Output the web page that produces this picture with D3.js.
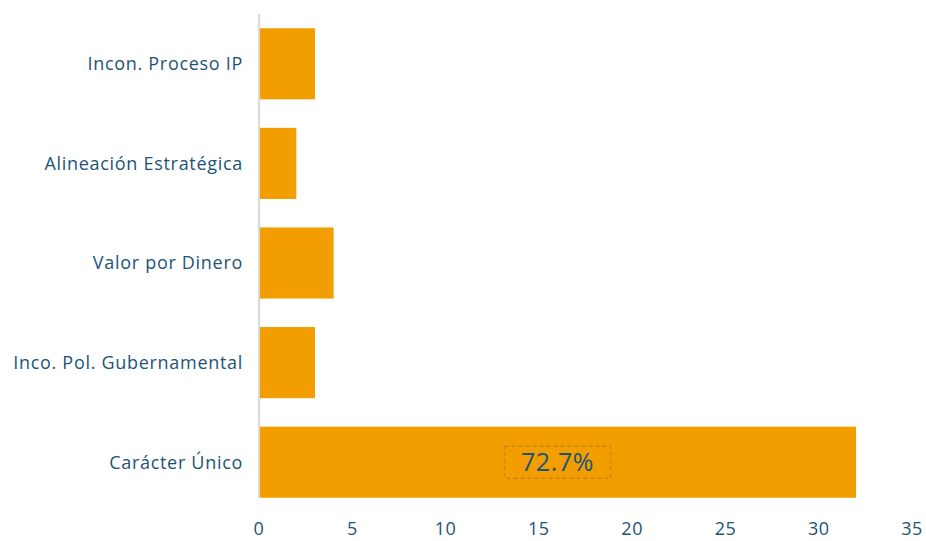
<!DOCTYPE html>
<html>
<head>
<meta charset="utf-8">
<script src="https://cdn.jsdelivr.net/npm/d3@7"></script>
<style>
  html, body { margin: 0; padding: 0; background: #fff; }
  svg { display: block; font-family: "Open Sans", "Noto Sans", sans-serif; }
</style>
</head>
<body>
<svg id="chart" width="926" height="541"></svg>
<script>
const categories = ["Incon. Proceso IP", "Alineación Estratégica", "Valor por Dinero", "Inco. Pol. Gubernamental", "Carácter Único"];
const values = [3, 2, 4, 3, 32];
const xTicks = [0, 5, 10, 15, 20, 25, 30, 35];
const highlightLabel = "72.7%";
const highlightIndex = 4;

const barColor = "#F29D00";
const textColor = "#1D5476";

const svg = d3.select("#chart");
const x = d3.scaleLinear().domain([0, 35]).range([259, 912]);
const y = d3.scaleBand().domain(categories).range([14, 512]).paddingInner(0.286).paddingOuter(0.143);

// bars
svg.selectAll("rect.bar").data(values).join("rect")
  .attr("class", "bar")
  .attr("x", x(0) + 1)
  .attr("y", (d, i) => y(categories[i]))
  .attr("width", d => x(d) - x(0) - 1)
  .attr("height", y.bandwidth())
  .attr("fill", barColor);

// vertical baseline
svg.append("line")
  .attr("x1", x(0)).attr("x2", x(0))
  .attr("y1", 14).attr("y2", y(categories[categories.length - 1]) + y.bandwidth())
  .attr("stroke", "#d9d9d9").attr("stroke-width", 2);

// category labels
svg.selectAll("text.cat").data(categories).join("text")
  .attr("class", "cat")
  .attr("x", 243)
  .attr("y", d => y(d) + y.bandwidth() / 2)
  .attr("dy", "0.35em")
  .attr("text-anchor", "end")
  .attr("font-size", 18)
  .attr("letter-spacing", 0.7)
  .attr("fill", textColor)
  .text(d => d);

// x tick labels
svg.selectAll("text.tick").data(xTicks).join("text")
  .attr("class", "tick")
  .attr("x", d => x(d))
  .attr("y", 535)
  .attr("text-anchor", "middle")
  .attr("font-size", 18)
  .attr("letter-spacing", 0.5)
  .attr("fill", textColor)
  .text(d => d);

// share label on the largest bar
const hb = y(categories[highlightIndex]);
const cx = (x(0) + x(values[highlightIndex])) / 2;
const cy = hb + y.bandwidth() / 2;
svg.append("rect")
  .attr("x", cx - 53).attr("y", cy - 16)
  .attr("width", 106).attr("height", 32)
  .attr("fill", "none")
  .attr("stroke", "#C98516")
  .attr("stroke-width", 1.5)
  .attr("stroke-dasharray", "4,3");
svg.append("text")
  .attr("x", cx).attr("y", cy)
  .attr("dy", "0.36em")
  .attr("text-anchor", "middle")
  .attr("font-size", 25)
  .attr("letter-spacing", 0.6)
  .attr("fill", textColor)
  .text(highlightLabel);
</script>
</body>
</html>
